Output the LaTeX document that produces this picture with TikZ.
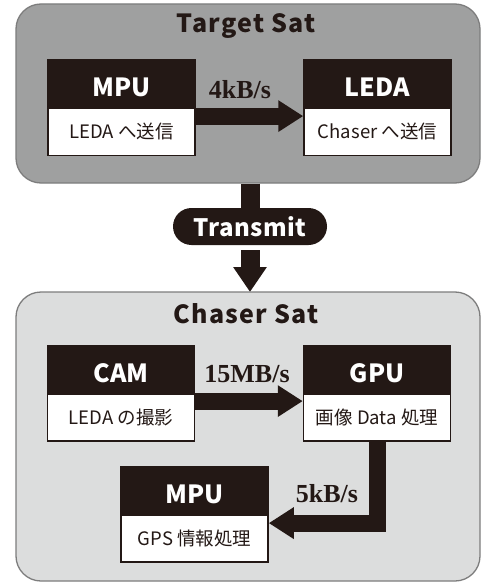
\documentclass[tikz,border=0pt]{standalone}
\usepackage{fontspec}
\setmainfont{Liberation Serif}
\newfontfamily\jp{Noto Sans CJK JP}
\newfontfamily\jpt{Noto Sans CJK JP}[LetterSpace=5]
\newfontfamily\jps{Noto Sans CJK JP}[LetterSpace=2]
\usetikzlibrary{arrows.meta}
\definecolor{ink}{HTML}{231815}
\definecolor{topgray}{HTML}{9FA0A0}
\definecolor{botgray}{HTML}{DCDDDD}
\definecolor{edgegray}{HTML}{7D7D7D}
\tikzset{
  satbox/.style={draw=edgegray, line width=1.3pt, rounded corners=25pt, inner sep=0pt},
  sattitle/.style={font=\jpt\bfseries\fontsize{25}{28}\selectfont, text=ink, inner sep=0pt},
  hdr/.style={fill=ink, draw=ink, line width=1.2pt, text=white, minimum width=147pt, minimum height=47pt, inner sep=0pt, text height=26pt, text depth=0pt, font=\jp\bfseries\fontsize{25}{28}\selectfont},
  bdy/.style={fill=white, draw=ink, line width=1.5pt, text=ink, minimum width=147pt, minimum height=47pt, inner sep=0pt, font=\jp\fontsize{18.5}{21}\selectfont},
  fat/.style={draw=ink, line width=17pt, -{Triangle[length=25pt, width=30pt]}},
  rate/.style={font=\bfseries\fontsize{26}{29}\selectfont, text=ink, inner sep=0pt},
  pill/.style={fill=ink, rounded corners=18.5pt, minimum width=154pt, minimum height=37pt, inner sep=0pt, text=white, font=\jps\bfseries\fontsize{24}{27}\selectfont}
}
\begin{document}
\begin{tikzpicture}[x=1pt, y=-1pt]
\useasboundingbox (0,0) rectangle (483,583);
\fill[white] (0,0) rectangle (483,583);

% Target Sat
\node[satbox, fill=topgray, minimum width=464pt, minimum height=179pt] (tsat) at (248,93.5) {};
\node[sattitle] (ttitle) at (246,26) {Target Sat};
\node[hdr] (mpu1h) at (121.5,83.5) {MPU};
\node[bdy, anchor=north] (mpu1b) at (mpu1h.south) {LEDA へ送信};
\node[hdr] (leda1h) at (377.5,83.5) {LEDA};
\node[bdy, anchor=north] (leda1b) at (leda1h.south) {Chaser へ送信};
\draw[fat] ([yshift=-8.5pt]mpu1b.north east) -- ([yshift=-8.5pt]leda1b.north west);
\node[rate] (r1) at (240,90) {4kB/s};

% Transmit
\node[pill] (tx) at (250,226.5) {Transmit};
\draw[draw=ink, line width=19pt] (tsat.south -| tx.north) -- (tx.north);
\coordinate (txin) at (250,292);
\draw[draw=ink, line width=19pt, -{Triangle[length=25pt, width=32pt]}] ([yshift=-5pt]tx.south) -- (txin);

% Chaser Sat
\node[satbox, fill=botgray, minimum width=464pt, minimum height=289pt] (csat) at (248,436.5) {};
\node[sattitle] (ctitle) at (246,314) {Chaser Sat};
\node[hdr] (camh) at (121,369) {CAM};
\node[bdy, anchor=north] (camb) at (camh.south) {LEDA の撮影};
\node[hdr] (gpuh) at (377,369) {GPU};
\node[bdy, anchor=north] (gpub) at (gpuh.south) {画像 Data 処理};
\draw[fat] ([yshift=-8pt]camb.north east) -- ([yshift=-8pt]gpub.north west);
\node[rate] (r2) at (247,374) {15MB/s};

\node[hdr] (mpu2h) at (194.5,490) {MPU};
\node[bdy, anchor=north] (mpu2b) at (mpu2h.south) {GPS 情報処理};
\draw[fat, -{Triangle[length=25pt, width=30pt]}] (gpub.south) |- ([yshift=-9pt]mpu2b.north east);
\node[rate] (r3) at (327,494) {5kB/s};
\end{tikzpicture}
\end{document}
